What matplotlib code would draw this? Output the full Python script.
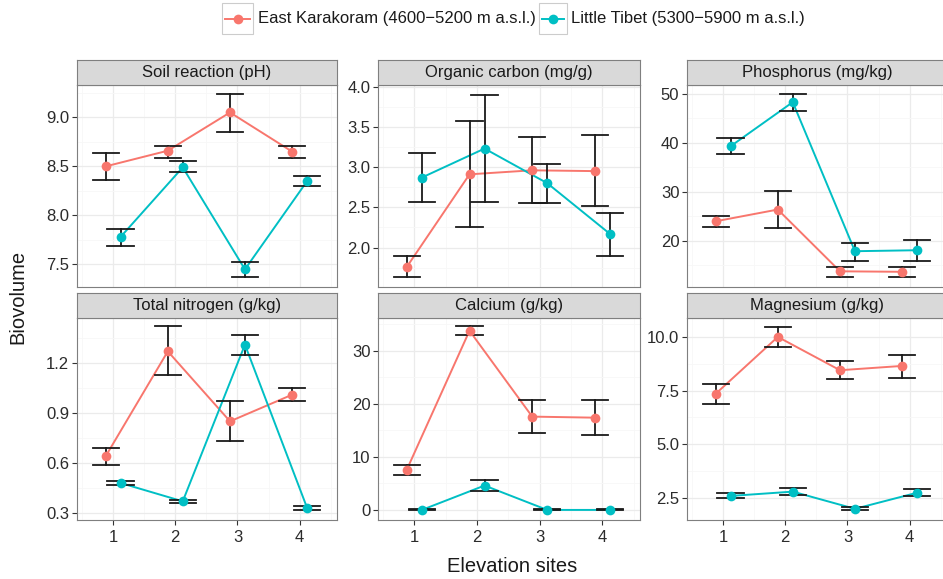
import matplotlib
matplotlib.use("Agg")
import matplotlib.pyplot as plt
import matplotlib.patches as patches
from matplotlib.lines import Line2D
from matplotlib.ticker import FixedLocator, AutoMinorLocator

plt.rcParams['font.family'] = ['Liberation Sans', 'DejaVu Sans']

# ---- data ----
sites = [1, 2, 3, 4]
panel_titles = ["Soil reaction (pH)", "Organic carbon (mg/g)", "Phosphorus (mg/kg)",
                "Total nitrogen (g/kg)", "Calcium (g/kg)", "Magnesium (g/kg)"]
series_names = ["East Karakoram (4600\u22125200 m a.s.l.)", "Little Tibet (5300\u22125900 m a.s.l.)"]

# East Karakoram: mean, upper, lower
ek_mean = [[8.50, 8.66, 9.05, 8.65], [1.76, 2.91, 2.96, 2.95], [24.0, 26.4, 13.8, 13.7],
           [0.64, 1.27, 0.85, 1.01], [7.6, 33.8, 17.6, 17.4], [7.35, 10.0, 8.45, 8.65]]
ek_upper = [[8.64, 8.71, 9.24, 8.71], [1.90, 3.57, 3.37, 3.40], [25.0, 30.2, 14.7, 14.7],
            [0.69, 1.42, 0.97, 1.05], [8.4, 34.6, 20.8, 20.7], [7.82, 10.47, 8.86, 9.16]]
ek_lower = [[8.36, 8.59, 8.85, 8.59], [1.63, 2.25, 2.55, 2.52], [22.9, 22.7, 12.6, 12.6],
            [0.59, 1.13, 0.73, 0.97], [6.6, 32.9, 14.6, 14.1], [6.90, 9.54, 8.04, 8.09]]

# Little Tibet: mean, upper, lower
lt_mean = [[7.78, 8.49, 7.45, 8.35], [2.87, 3.23, 2.80, 2.17], [39.3, 48.3, 17.9, 18.1],
           [0.48, 0.37, 1.31, 0.33], [0.0, 4.6, 0.0, 0.0], [2.60, 2.80, 2.00, 2.75]]
lt_upper = [[7.86, 8.56, 7.53, 8.40], [3.17, 3.90, 3.04, 2.43], [40.9, 50.0, 19.6, 20.2],
            [0.49, 0.38, 1.37, 0.34], [0.1, 5.7, 0.1, 0.1], [2.72, 2.95, 2.08, 2.90]]
lt_lower = [[7.69, 8.44, 7.37, 8.30], [2.57, 2.57, 2.55, 1.89], [37.8, 46.4, 16.0, 16.0],
            [0.47, 0.36, 1.25, 0.32], [-0.1, 3.6, -0.1, -0.1], [2.50, 2.65, 1.95, 2.62]]

y_ticks = [[7.5, 8.0, 8.5, 9.0], [2.0, 2.5, 3.0, 3.5, 4.0], [20, 30, 40, 50],
           [0.3, 0.6, 0.9, 1.2], [0, 10, 20, 30], [2.5, 5.0, 7.5, 10.0]]
y_tick_labels = [["7.5", "8.0", "8.5", "9.0"], ["2.0", "2.5", "3.0", "3.5", "4.0"],
                 ["20", "30", "40", "50"], ["0.3", "0.6", "0.9", "1.2"],
                 ["0", "10", "20", "30"], ["2.5", "5.0", "7.5", "10.0"]]
y_limits = [(7.27, 9.33), (1.51, 4.02), (10.6, 51.8), (0.258, 1.47), (-1.9, 36.2), (1.48, 10.88)]

red = '#F8766D'
teal = '#00BFC4'

# ---- layout (pixels) ----
W, H = 943, 579
fig = plt.figure(figsize=(W / 100, H / 100), dpi=100, facecolor='white')

cols = [(77, 337), (378, 640), (687, 947)]
rows = [(60, 85, 287), (293, 318, 520)]  # strip top, panel top, panel bottom
dodge = 0.12
cap = 0.21


def fig_rect(x0, x1, y0, y1):
    return [x0 / W, 1 - y1 / H, (x1 - x0) / W, (y1 - y0) / H]


for i in range(6):
    r, c = divmod(i, 3)
    x0, x1 = cols[c]
    s_top, p_top, p_bot = rows[r]

    ax = fig.add_axes(fig_rect(x0, x1, p_top, p_bot))
    ax.set_facecolor('white')
    ax.set_xlim(0.42, 4.6)
    ax.set_ylim(*y_limits[i])

    ax.xaxis.set_major_locator(FixedLocator(sites))
    ax.yaxis.set_major_locator(FixedLocator(y_ticks[i]))
    ax.set_yticklabels(y_tick_labels[i])
    ax.xaxis.set_minor_locator(FixedLocator([0.5, 1.5, 2.5, 3.5, 4.5]))
    ax.yaxis.set_minor_locator(AutoMinorLocator(2))
    ax.grid(which='major', color='#EBEBEB', linewidth=0.9, zorder=0)
    ax.grid(which='minor', color='#F7F7F7', linewidth=0.6, zorder=0)
    ax.set_axisbelow(True)

    for sp in ax.spines.values():
        sp.set_color('#7F7F7F')
        sp.set_linewidth(0.8)
    ax.tick_params(which='major', direction='out', length=3.5, width=0.8, color='#333333',
                   labelsize=12, labelcolor='#2B2B2B', pad=2)
    ax.tick_params(axis='x', pad=4)
    ax.tick_params(which='minor', length=0)
    if r == 0:
        ax.tick_params(axis='x', labelbottom=False, length=0)

    for mean, up, lo, color, off in [(ek_mean[i], ek_upper[i], ek_lower[i], red, -dodge),
                                     (lt_mean[i], lt_upper[i], lt_lower[i], teal, dodge)]:
        xs = [s + off for s in sites]
        ax.plot(xs, mean, color=color, linewidth=1.4, zorder=3)
        for x, u, l in zip(xs, up, lo):
            ax.plot([x, x], [l, u], color='#1A1A1A', linewidth=1.3, zorder=4)
            ax.plot([x - cap, x + cap], [u, u], color='#1A1A1A', linewidth=1.3, zorder=4)
            ax.plot([x - cap, x + cap], [l, l], color='#1A1A1A', linewidth=1.3, zorder=4)
        ax.plot(xs, mean, 'o', color=color, markersize=7, zorder=5, markeredgewidth=0)

    # strip
    sax = fig.add_axes(fig_rect(x0, x1, s_top, p_top))
    sax.set_facecolor('#D9D9D9')
    sax.set_xticks([])
    sax.set_yticks([])
    for sp in sax.spines.values():
        sp.set_color('#7F7F7F')
        sp.set_linewidth(0.8)
    sax.text(0.5, 0.5, panel_titles[i], ha='center', va='center', fontsize=12,
             color='#1A1A1A', transform=sax.transAxes)

# axis titles
fig.text(512 / W, 1 - 567 / H, "Elevation sites", ha='center', va='center', fontsize=14.5, color='#1A1A1A')
fig.text(18 / W, 1 - 297 / H, "Biovolume", ha='center', va='center', rotation=90, fontsize=14.5,
         color='#1A1A1A')

# legend
legend_items = [(222, 253, 258, red, series_names[0]), (539, 567, 571, teal, series_names[1])]
for kx0, kx1, tx, color, label in legend_items:
    key = patches.Rectangle((kx0 / W, 1 - 34 / H), (kx1 - kx0) / W, 31 / H, transform=fig.transFigure,
                            facecolor='white', edgecolor='#CCCCCC', linewidth=0.8)
    fig.patches.append(key)
    yc = 1 - 18.5 / H
    fig.lines.append(Line2D([(kx0 + 3) / W, (kx1 - 3) / W], [yc, yc], transform=fig.transFigure,
                            color=color, linewidth=1.4))
    fig.lines.append(Line2D([(kx0 + kx1) / 2 / W], [yc], transform=fig.transFigure, marker='o',
                            color=color, markersize=7, markeredgewidth=0))
    fig.text(tx / W, yc, label, ha='left', va='center', fontsize=12, color='#1A1A1A')

fig.savefig('out.png', dpi=100, facecolor='white')
